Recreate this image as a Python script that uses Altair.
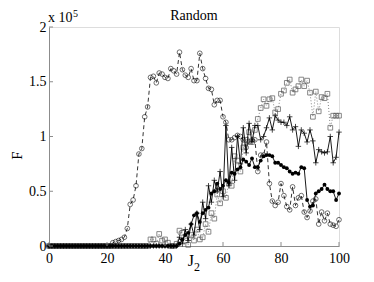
import altair as alt
import pandas as pd

J = list(range(101))

circ = [0, 0, 0, 0, 0, 0, 0, 0, 0, 0, 0, 0, 0, 0, 0, 0, 0, 0, 0, 0, 0, 0,
        0.03, 0.04, 0.05, 0.06, 0.08, 0.16, 0.38, 0.42, 0.55, 0.84, 0.89, 1.18, 1.27,
        1.54, 1.55, 1.49, 1.58, 1.57, 1.54, 1.53, 1.62, 1.60, 1.57, 1.77, 1.61, 1.56,
        1.54, 1.62, 1.51, 1.51, 1.76, 1.62, 1.53, 1.44, 1.43, 1.29, 1.33, 1.33, 1.18,
        1.13, 0.97, 0.97, 0.99, 1.01, 1.00, 0.97, 0.90, 0.95, 0.97, 0.97, 0.68, 0.83,
        0.83, 0.95, 0.57, 0.41, 0.37, 0.40, 0.57, 0.46, 0.36, 0.33, 0.54, 0.37, 0.44,
        0.46, 0.31, 0.26, 0.32, 0.41, 0.43, 0.20, 0.31, 0.23, 0.30, 0.20, 0.19, 0.18, 0.24]

sqr = [0, 0, 0, 0, 0, 0, 0, 0, 0, 0, 0, 0, 0, 0, 0, 0, 0, 0, 0, 0, 0, 0, 0, 0, 0,
       0, 0, 0, 0, 0, 0, 0, 0, 0, 0,
       0.06, 0.06, 0.02, 0.11, 0.05, 0.06, 0.03, 0, 0, 0.02, 0.14, 0.12, 0.05, 0.01,
       0.10, 0.05, 0.15, 0.06, 0.08, 0.20, 0.13, 0.30, 0.25, 0.47, 0.39, 0.50, 0.44,
       0.58, 0.55, 0.82, 0.78, 0.68, 0.90, 0.97, 1.04, 0.95, 1.06, 1.16, 1.26, 1.34,
       1.28, 1.34, 1.35, 1.22, 1.25, 1.39, 1.42, 1.49, 1.52, 1.40, 1.43, 1.46, 1.52,
       1.46, 1.51, 1.40, 1.18, 1.41, 1.23, 1.36, 1.35, 1.39, 1.08, 1.19, 1.19, 1.19]

plus = [0, 0, 0, 0, 0, 0, 0, 0, 0, 0, 0, 0, 0, 0, 0, 0, 0, 0, 0, 0, 0, 0, 0, 0, 0,
        0, 0, 0, 0, 0, 0, 0, 0, 0, 0, 0, 0, 0, 0, 0, 0, 0, 0, 0, 0,
        0.08, 0.02, 0.15, 0.05, 0.20, 0.10, 0.30, 0.15, 0.40, 0.25, 0.55, 0.40, 0.60,
        0.50, 0.68, 0.45, 1.10, 0.55, 0.90, 0.60, 1.00, 0.75, 1.08, 0.85, 1.12, 0.95,
        1.10, 1.10, 0.97, 1.00, 1.08, 1.17, 1.06, 1.19, 1.15, 1.13, 1.13, 1.10, 1.18,
        1.06, 1.09, 0.91, 1.06, 1.03, 0.95, 1.06, 0.96, 0.76, 0.88, 0.86, 0.85, 0.86,
        1.00, 0.76, 0.81, 1.04]

dots = [0, 0, 0, 0, 0, 0, 0, 0, 0, 0, 0, 0, 0, 0, 0, 0, 0, 0, 0, 0, 0, 0, 0, 0, 0,
        0, 0, 0, 0, 0, 0, 0, 0, 0, 0, 0, 0, 0, 0, 0, 0, 0, 0, 0, 0,
        0.02, 0.06, 0.10, 0.12, 0.20, 0.28, 0.30, 0.22, 0.30, 0.33, 0.35, 0.48, 0.50,
        0.57, 0.52, 0.55, 0.60, 0.58, 0.67, 0.66, 0.70, 0.72, 0.79, 0.77, 0.74, 0.80,
        0.72, 0.72, 0.78, 0.82, 0.83, 0.83, 0.82, 0.76, 0.76, 0.74, 0.72, 0.71, 0.68,
        0.66, 0.67, 0.66, 0.72, 0.71, 0.42, 0.36, 0.37, 0.48, 0.50, 0.52, 0.56, 0.52,
        0.50, 0.50, 0.42, 0.48]

x_ticks = [0, 20, 40, 60, 80, 100]
y_ticks = [0, 0.5, 1, 1.5, 2]

FONT = "Liberation Serif"
W, H = 290, 219

def frame(vals):
    return pd.DataFrame({"J": J, "F": vals})

xs = alt.X("J:Q", scale=alt.Scale(domain=[0, 100], nice=False, zero=False),
           axis=alt.Axis(values=x_ticks, title=None, tickSize=0, labelPadding=5,
                         labelFlush=False, domainColor="#8c8c8c", labelFont=FONT,
                         labelFontSize=14, labelColor="black", grid=False))
ys = alt.Y("F:Q", scale=alt.Scale(domain=[0, 2], nice=False),
           axis=alt.Axis(values=y_ticks, format="~g", title="F", tickSize=0, labelPadding=3,
                         labelFlush=False, domainColor="#8c8c8c", labelFont=FONT,
                         labelFontSize=14, labelColor="black", grid=False, titleFont=FONT,
                         titleFontSize=15, titleFontWeight="normal", titleColor="black",
                         titleAngle=270, titleX=-33, titleY=128, titleAlign="center",
                         titleBaseline="middle"))

c_line = alt.Chart(frame(circ)).mark_line(color="black", strokeWidth=0.8, strokeDash=[4, 3]).encode(x=xs, y=ys)
c_pts = alt.Chart(frame(circ)).mark_point(shape="circle", filled=False, color="black", size=22, strokeWidth=0.8).encode(x="J:Q", y="F:Q")

s_line = alt.Chart(frame(sqr)).mark_line(color="#777777", strokeWidth=0.9, strokeDash=[1, 2]).encode(x="J:Q", y="F:Q")
s_pts = alt.Chart(frame(sqr)).mark_point(shape="square", filled=False, color="#444444", size=22, strokeWidth=0.9).encode(x="J:Q", y="F:Q")

p_line = alt.Chart(frame(plus)).mark_line(color="black", strokeWidth=0.9).encode(x="J:Q", y="F:Q")
p_pts = alt.Chart(frame(plus)).mark_point(shape="M-1,0L1,0M0,-1L0,1", filled=False, color="black", size=30, strokeWidth=1).encode(x="J:Q", y="F:Q")

d_line = alt.Chart(frame(dots)).mark_line(color="black", strokeWidth=0.9).encode(x="J:Q", y="F:Q")
d_pts = alt.Chart(frame(dots)).mark_point(shape="circle", filled=True, color="black", size=15, opacity=1).encode(x="J:Q", y="F:Q")

xt = alt.Chart(pd.DataFrame({"J": x_ticks})).mark_rule(color="#8c8c8c", strokeWidth=1).encode(
    x="J:Q", y=alt.value(H), y2=alt.value(H - 4))
yt = alt.Chart(pd.DataFrame({"F": y_ticks})).mark_rule(color="#8c8c8c", strokeWidth=1).encode(
    y="F:Q", x=alt.value(0), x2=alt.value(4))

def label(txt, x, y, size, align="left"):
    return alt.Chart(pd.DataFrame({"t": [txt]})).mark_text(
        font=FONT, fontSize=size, color="black", align=align, baseline="alphabetic"
    ).encode(text="t:N", x=alt.value(x), y=alt.value(y))

title = label("Random", 145, -7, 14, "center")
mult = label("x 10", -1, -5, 14)
mult_exp = label("5", 24, -10, 10)
jlab = label("J", 145, 239, 16, "right")
jsub = label("2", 145, 244, 12)

chart = alt.layer(
    c_line, c_pts, s_line, s_pts, p_line, p_pts, d_line, d_pts, xt, yt,
    title, mult, mult_exp, jlab, jsub
).properties(
    width=W, height=H,
    padding={"left": 41, "top": 19, "right": 27, "bottom": 28},
    autosize=alt.AutoSizeParams(type="none"),
).configure_view(stroke=None).configure(background="white")

chart.save("out.html", embed_options={"renderer": "svg", "actions": False})
